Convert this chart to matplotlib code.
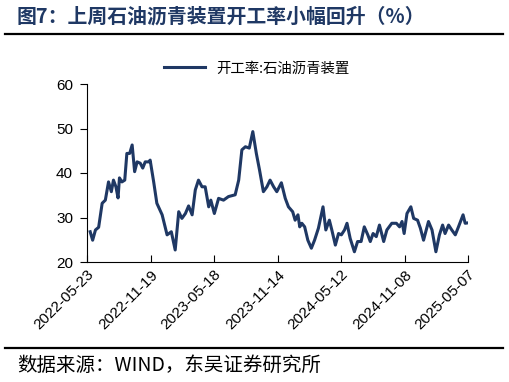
import pandas as pd
import matplotlib
matplotlib.use('Agg')
import matplotlib.pyplot as plt
from matplotlib.lines import Line2D

plt.rcParams['font.family'] = ['Liberation Sans', 'Noto Sans CJK SC', 'DejaVu Sans']

start = '2022-05-23'
# days after start date
days = [9, 16, 24, 33, 43, 52, 61, 69, 75, 82,
        88, 92, 99, 107, 113, 121, 128, 135, 142, 151,
        158, 165, 175, 179, 189, 198, 213, 227, 239, 250,
        260, 269, 279, 288, 298, 307, 316, 326, 335, 345,
        351, 361, 373, 387, 401, 420, 430, 439, 449, 460,
        470, 480, 489, 500, 510, 519, 529, 538, 551, 562,
        571, 583, 590, 598, 603, 609, 617, 626, 636, 645,
        656, 669, 677, 687, 694, 704, 713, 721, 730, 737,
        746, 758, 767, 777, 786, 796, 803, 811, 820, 829,
        841, 850, 864, 877, 886, 893, 899, 907, 918, 926,
        937, 945, 954, 968, 978, 989, 999, 1008, 1015, 1025,
        1034, 1044, 1053, 1066, 1072, 1080]
rate = [26.8, 24.9, 27.2, 27.8, 33.2, 33.9, 38.0, 35.8, 38.4, 36.9,
        34.4, 38.9, 38.0, 38.4, 44.4, 44.4, 46.3, 40.3, 42.5, 42.2,
        41.1, 42.5, 42.5, 42.9, 38.0, 33.2, 30.6, 26.1, 26.8, 22.7,
        31.3, 29.8, 30.9, 32.6, 30.6, 36.2, 38.4, 36.9, 36.9, 32.4,
        33.9, 30.9, 34.3, 33.9, 34.7, 35.1, 38.4, 45.2, 45.9, 45.6,
        49.3, 44.4, 40.7, 35.8, 36.9, 38.4, 36.9, 35.8, 37.8, 34.3,
        32.4, 31.3, 29.4, 30.6, 27.9, 28.7, 27.9, 24.9, 23.1, 24.9,
        27.6, 32.4, 27.2, 29.4, 27.2, 23.8, 26.4, 26.1, 27.2, 28.7,
        25.3, 22.3, 24.6, 24.6, 27.9, 26.1, 24.6, 26.4, 25.7, 28.3,
        24.6, 27.2, 28.7, 28.7, 27.9, 29.1, 26.4, 30.9, 32.4, 29.8,
        29.4, 27.6, 24.9, 29.1, 27.2, 22.3, 26.1, 28.3, 26.4, 28.3,
        27.2, 26.1, 27.9, 30.6, 28.7, 28.8]
tick_labels = ['2022-05-23', '2022-11-19', '2023-05-18', '2023-11-14',
               '2024-05-12', '2024-11-08', '2025-05-07']
y_ticks = [20, 30, 40, 50, 60]

dates = pd.Timestamp(start) + pd.to_timedelta(days, unit='D')
tick_dates = pd.to_datetime(tick_labels)

fig = plt.figure(figsize=(5.09, 3.82), dpi=100)
ax = fig.add_axes([87/509, 1-262/382, (468-87)/509, (262-84)/382])

ax.plot(dates, rate, color='#1F3864', lw=2.2, label='开工率:石油沥青装置')

ax.set_xlim(tick_dates[0], tick_dates[-1])
ax.set_ylim(20, 60)
ax.set_yticks(y_ticks)
ax.set_xticks(tick_dates)
ax.set_xticklabels(tick_labels, rotation=45, ha='right', va='top', rotation_mode='anchor')
ax.tick_params(axis='y', direction='out', length=5, pad=5, labelsize=11)
ax.tick_params(axis='x', direction='in', length=5, pad=4, labelsize=11)
ax.spines['top'].set_visible(False)
ax.spines['right'].set_visible(False)

ax.legend(loc='lower center', bbox_to_anchor=(0.446, 1.0), frameon=False,
          handlelength=2.8, borderaxespad=0.2,
          prop={'family': ['Noto Sans CJK SC', 'DejaVu Sans'], 'size': 10.4})

fig.text(17/509, 1-16/382, '图7：上周石油沥青装置开工率小幅回升（%）',
         family=['Noto Sans CJK SC'], fontsize=14.3, fontweight='bold',
         color='#1F3864', va='center', ha='left')
fig.add_artist(Line2D([5/509, 503/509], [1-34/382, 1-34/382], color='black', lw=1.6,
                      transform=fig.transFigure))
fig.add_artist(Line2D([5/509, 503/509], [1-348/382, 1-348/382], color='black', lw=1.6,
                      transform=fig.transFigure))
fig.text(17/509, 1-365/382, '数据来源：WIND，东吴证券研究所',
         family=['Noto Sans CJK SC', 'DejaVu Sans'], fontsize=14,
         color='black', va='center', ha='left')

plt.savefig('out.png', dpi=100)
